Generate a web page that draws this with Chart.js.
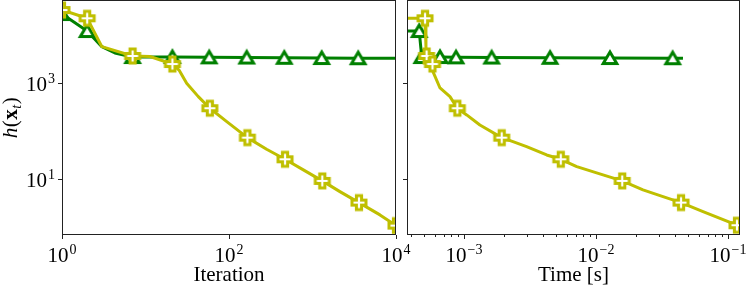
<!DOCTYPE html>
<html>
<head>
<meta charset="utf-8">
<script src="https://cdn.jsdelivr.net/npm/chart.js@4.4.1/dist/chart.umd.min.js"></script>
<style>
  html, body { margin: 0; padding: 0; background: #fff; }
  #wrap { position: relative; width: 748px; height: 286px; }
  canvas { position: absolute; left: 0; top: 0; }
</style>
</head>
<body>
<div id="wrap">
  <canvas id="left" width="748" height="286"></canvas>
  <canvas id="right" width="748" height="286"></canvas>
</div>
<script>
// values
// left panel: h(x_t) against iteration
const iterYellow = [1, 2, 3, 7, 11.3, 21, 25.2, 31.1, 42.9, 59, 94, 166, 282, 469, 777, 1310, 2130, 3600, 6430, 10000];
const hYellowIter = [32200, 21700, 5590, 3580, 3500, 2440, 1830, 972, 513, 295, 155, 72.3, 41.5, 25.7, 15.5, 9.14, 5.48, 3.24, 1.80, 1.08];
const yellowIterMarks = [0, 1, 3, 5, 9, 11, 13, 15, 17, 19];

const iterGreen = [1, 2, 3, 4.3, 7, 21, 58, 163, 459, 1290, 3530, 10000];
const hGreenIter = [26600, 11800, 5580, 4130, 3410, 3410, 3360, 3330, 3290, 3250, 3220, 3200];
const greenIterMarks = [0, 1, 4, 5, 6, 7, 8, 9, 10];

// right panel: h(x_t) against time [s]
const timeYellow = [3.0e-4, 5.07e-4, 5.15e-4, 5.21e-4, 5.77e-4, 5.82e-4, 6.58e-4, 7.83e-4, 8.9e-4, 1.048e-3, 1.32e-3, 1.93e-3,
                    2.35e-3, 2.98e-3, 4.23e-3, 5.41e-3, 7.15e-3, 0.0113, 0.0158, 0.0227, 0.0322, 0.0441, 0.0647, 0.117];
const hYellowTime = [21700, 21700, 5590, 3580, 2440, 1690, 776, 513, 295, 214, 132, 72.3,
                     59.7, 47, 31.6, 25.7, 18.1, 12.2, 9.14, 5.94, 4.32, 3.24, 2.11, 1.1];
const yellowTimeMarks = [1, 3, 4, 8, 11, 15, 18, 21, 23];

const timeGreen = [3.0e-4, 4.58e-4, 4.7e-4, 4.79e-4, 6.58e-4, 8.7e-4, 1.62e-3, 4.49e-3, 0.01276, 0.0381, 0.0456];
const hGreenTime = [11800, 11800, 5580, 3410, 3410, 3360, 3330, 3290, 3250, 3220, 3200];
const greenTimeMarks = [1, 3, 4, 5, 6, 7, 8, 9];

// axis ticks
const yTicks = [10, 1000];
const iterTicks = [1, 100, 10000];
const timeTicks = [1e-3, 1e-2, 1e-1];

const GREEN = '#008000';
const YELLOW = '#bfbf00';
const FONT = '"Liberation Serif", "Times New Roman", serif';

// hollow marker shapes (white face, coloured edge)
function plusMarker() {
    const c = document.createElement('canvas');
    c.width = 22; c.height = 22;
    const g = c.getContext('2d');
    const L = 7, a = 2.6;
    g.translate(11, 11);
    g.beginPath();
    g.moveTo(-a, -L); g.lineTo(a, -L); g.lineTo(a, -a); g.lineTo(L, -a); g.lineTo(L, a); g.lineTo(a, a);
    g.lineTo(a, L); g.lineTo(-a, L); g.lineTo(-a, a); g.lineTo(-L, a); g.lineTo(-L, -a); g.lineTo(-a, -a);
    g.closePath();
    g.fillStyle = '#fff';
    g.fill();
    g.lineWidth = 3;
    g.lineJoin = 'miter';
    g.strokeStyle = YELLOW;
    g.stroke();
    return c;
}

function triMarker() {
    const c = document.createElement('canvas');
    c.width = 24; c.height = 24;
    const g = c.getContext('2d');
    g.translate(12, 12);
    g.beginPath();
    g.moveTo(0, -6); g.lineTo(6.8, 5.5); g.lineTo(-6.8, 5.5);
    g.closePath();
    g.fillStyle = '#fff';
    g.fill();
    g.lineWidth = 3;
    g.lineJoin = 'miter';
    g.strokeStyle = GREEN;
    g.stroke();
    return c;
}

function pts(xs, ys) {
    return xs.map((x, i) => ({ x: x, y: ys[i] }));
}

function pick(xs, ys, idx) {
    return idx.map(i => ({ x: xs[i], y: ys[i] }));
}

function series(xs, ys, marks, color, marker, order) {
    return [
        { data: pts(xs, ys), borderColor: color, borderWidth: 3, pointRadius: 0,
          borderJoinStyle: 'round', tension: 0, clip: 0, order: order + 1 },
        { data: pick(xs, ys, marks), showLine: false, pointStyle: marker, pointRadius: 7,
          borderWidth: 0, clip: 0, order: order }
    ];
}

function supText(exp) {
    return exp < 0 ? '\u2212' + (-exp) : String(exp);
}

// "10" with a raised exponent
function drawPow(ctx, value, x, y, align) {
    const exp = Math.round(Math.log10(value));
    const sup = supText(exp);
    ctx.font = '21px ' + FONT;
    const wb = ctx.measureText('10').width;
    ctx.font = '14px ' + FONT;
    const ws = ctx.measureText(sup).width;
    const w = wb + ws + 1;
    const x0 = align === 'right' ? x - w : x - w / 2;
    ctx.textAlign = 'left';
    ctx.textBaseline = 'alphabetic';
    ctx.font = '21px ' + FONT;
    ctx.fillText('10', x0, y);
    ctx.font = '14px ' + FONT;
    ctx.fillText(sup, x0 + wb + 1, y - 8);
}

function drawYTitle(ctx, cx, cy) {
    const parts = [
        ['italic 21px ' + FONT, 'h', 0],
        ['21px ' + FONT, '(', 0],
        ['bold 21px ' + FONT, 'x', 0],
        ['italic 14px ' + FONT, 't', 4],
        ['21px ' + FONT, ')', 0]
    ];
    ctx.save();
    ctx.translate(cx, cy);
    ctx.rotate(-Math.PI / 2);
    ctx.textAlign = 'left';
    ctx.textBaseline = 'alphabetic';
    let w = 0;
    parts.forEach(p => { ctx.font = p[0]; w += ctx.measureText(p[1]).width + 0.5; });
    let x = -w / 2;
    parts.forEach(p => {
        ctx.font = p[0];
        ctx.fillText(p[1], x, p[2]);
        x += ctx.measureText(p[1]).width + 0.5;
    });
    ctx.restore();
}

// box, tick marks, tick labels and titles
const axesBox = {
    id: 'axesBox',
    afterDatasetsDraw(chart, args, o) {
        const ctx = chart.ctx;
        const a = chart.chartArea;
        const sx = chart.scales.x, sy = chart.scales.y;
        ctx.save();
        ctx.strokeStyle = '#222';
        ctx.fillStyle = '#000';
        ctx.lineWidth = 1;
        ctx.strokeRect(a.left + 0.5, a.top + 0.5, a.right - a.left - 1, a.bottom - a.top - 1);

        ctx.beginPath();
        o.xMajor.forEach(v => {
            const px = Math.round(sx.getPixelForValue(v)) + 0.5;
            ctx.moveTo(px, a.bottom); ctx.lineTo(px, a.bottom + 4);
        });
        o.xMinor.forEach(v => {
            const px = Math.round(sx.getPixelForValue(v)) + 0.5;
            ctx.moveTo(px, a.bottom); ctx.lineTo(px, a.bottom + 2);
        });
        yTicks.forEach(v => {
            const py = Math.round(sy.getPixelForValue(v)) + 0.5;
            ctx.moveTo(a.left, py); ctx.lineTo(a.left - 4, py);
        });
        ctx.stroke();

        o.xMajor.forEach(v => drawPow(ctx, v, sx.getPixelForValue(v), 262, 'center'));
        if (o.yLabels) {
            yTicks.forEach(v => drawPow(ctx, v, a.left - 7, sy.getPixelForValue(v) + 8, 'right'));
            drawYTitle(ctx, 17, (a.top + a.bottom) / 2);
        }
        ctx.font = '21px ' + FONT;
        ctx.textAlign = 'center';
        ctx.fillText(o.title, (a.left + a.right) / 2, 281);
        ctx.restore();
    }
};

function makeChart(id, datasets, xMin, xMax, pad, box) {
    const ctx = document.getElementById(id).getContext('2d');
    return new Chart(ctx, {
        type: 'line',
        data: { datasets: datasets },
        options: {
            responsive: false,
            animation: false,
            events: [],
            layout: { padding: pad, autoPadding: false },
            scales: {
                x: { type: 'logarithmic', min: xMin, max: xMax, bounds: 'data', display: false },
                y: { type: 'logarithmic', min: 0.689, max: 52000, bounds: 'data', display: false }
            },
            plugins: {
                legend: { display: false },
                tooltip: { enabled: false },
                axesBox: box
            }
        },
        plugins: [axesBox]
    });
}

const plus = plusMarker();
const tri = triMarker();

// minor ticks on the time axis
const timeMinor = [];
[1e-4, 1e-3, 1e-2].forEach(d => {
    for (let k = 2; k <= 9; k++) timeMinor.push(k * d);
});

makeChart('left',
    series(iterYellow, hYellowIter, yellowIterMarks, YELLOW, plus, 0)
        .concat(series(iterGreen, hGreenIter, greenIterMarks, GREEN, tri, 2)),
    1, 10000,
    { left: 62, right: 352, top: 0, bottom: 51 },
    { xMajor: iterTicks, xMinor: [], yLabels: true, title: 'Iteration' });

makeChart('right',
    series(timeYellow, hYellowTime, yellowTimeMarks, YELLOW, plus, 0)
        .concat(series(timeGreen, hGreenTime, greenTimeMarks, GREEN, tri, 2)),
    3.70e-4, 0.1233,
    { left: 407, right: 8, top: 0, bottom: 51 },
    { xMajor: timeTicks, xMinor: timeMinor.filter(v => v > 3.70e-4 && v < 0.1233), yLabels: false, title: 'Time [s]' });
</script>
</body>
</html>
